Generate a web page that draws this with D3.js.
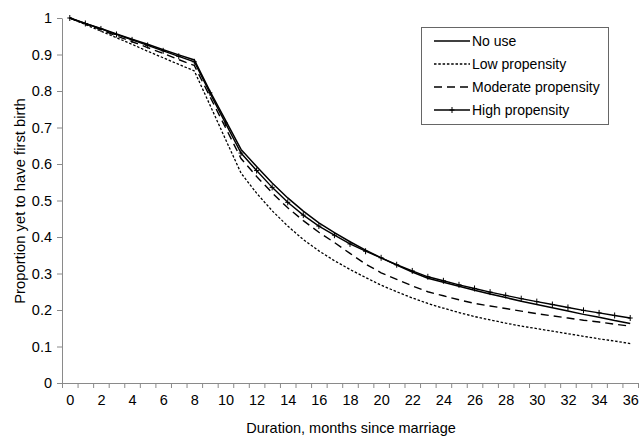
<!DOCTYPE html>
<html>
<head>
<meta charset="utf-8">
<script src="https://cdn.jsdelivr.net/npm/d3@7"></script>
<style>
  body { margin: 0; background: #fff; }
  svg { font-family: "Liberation Sans", Arial, sans-serif; }
</style>
</head>
<body>
<svg id="chart" width="641" height="439"></svg>
<script>
const months = d3.range(0, 37);
const xTickLabels = d3.range(0, 37, 2);
const yTicks = [0, 0.1, 0.2, 0.3, 0.4, 0.5, 0.6, 0.7, 0.8, 0.9, 1];
const seriesNames = ["No use", "Low propensity", "Moderate propensity", "High propensity"];

const noUse = [1.000, 0.985, 0.971, 0.956, 0.942, 0.928, 0.913, 0.899, 0.885, 0.800, 0.720, 0.640,
  0.593, 0.548, 0.507, 0.471, 0.439, 0.412, 0.387, 0.364, 0.343, 0.323, 0.304, 0.287,
  0.276, 0.265, 0.254, 0.244, 0.234, 0.224, 0.215, 0.206, 0.197, 0.188, 0.180, 0.171, 0.163];
const lowProp = [1.000, 0.982, 0.964, 0.946, 0.928, 0.909, 0.891, 0.873, 0.855, 0.762, 0.668, 0.575,
  0.520, 0.472, 0.430, 0.393, 0.362, 0.335, 0.311, 0.289, 0.268, 0.250, 0.233, 0.218,
  0.205, 0.193, 0.182, 0.173, 0.164, 0.156, 0.149, 0.142, 0.135, 0.128, 0.121, 0.115, 0.108];
const modProp = [1.000, 0.984, 0.968, 0.951, 0.935, 0.919, 0.903, 0.886, 0.870, 0.785, 0.700, 0.615,
  0.566, 0.521, 0.480, 0.445, 0.413, 0.385, 0.355, 0.326, 0.302, 0.284, 0.266, 0.250,
  0.239, 0.228, 0.218, 0.211, 0.204, 0.197, 0.190, 0.184, 0.178, 0.172, 0.167, 0.161, 0.156];
const highProp = [1.000, 0.985, 0.970, 0.955, 0.940, 0.925, 0.910, 0.895, 0.880, 0.795, 0.712, 0.630,
  0.582, 0.536, 0.495, 0.460, 0.430, 0.405, 0.381, 0.361, 0.343, 0.324, 0.307, 0.291,
  0.280, 0.269, 0.259, 0.249, 0.240, 0.231, 0.223, 0.215, 0.207, 0.199, 0.192, 0.185, 0.178];

const seriesValues = [noUse, lowProp, modProp, highProp];
const styles = [
  { dash: null, width: 1.5, marker: false },
  { dash: "2.5,1.8", width: 1.3, marker: false },
  { dash: "8,5", width: 1.4, marker: false },
  { dash: null, width: 1.4, marker: true }
];

const svg = d3.select("#chart");
const axisColor = "#8a8a8a";

const x = d3.scaleLinear().domain([-0.5, 36.5]).range([62, 638]);
const y = d3.scaleLinear().domain([0, 1]).range([383, 18]);

// Y axis
const yAxis = svg.append("g")
  .attr("transform", "translate(62,0)")
  .call(d3.axisLeft(y).tickValues(yTicks).tickSize(5).tickSizeOuter(0).tickPadding(5)
    .tickFormat(d => String(+d.toFixed(1))));
yAxis.select(".domain").attr("stroke", axisColor);
yAxis.selectAll(".tick line").attr("stroke", axisColor);
yAxis.selectAll("text").attr("font-size", 14.5).attr("fill", "#000")
  .attr("font-family", "Liberation Sans, Arial, sans-serif");

// X axis: boundary ticks
const boundaries = d3.range(-0.5, 37, 1);
const xAxis = svg.append("g")
  .attr("transform", "translate(0,383)")
  .call(d3.axisBottom(x).tickValues(boundaries).tickSize(5).tickSizeOuter(0).tickFormat(""));
xAxis.select(".domain").attr("stroke", axisColor);
xAxis.selectAll(".tick line").attr("stroke", axisColor);

// X labels
const xLab = svg.append("g")
  .attr("transform", "translate(0,383)")
  .call(d3.axisBottom(x).tickValues(xTickLabels).tickSize(0).tickPadding(12).tickFormat(d => d));
xLab.select(".domain").remove();
xLab.selectAll("text").attr("font-size", 14.5).attr("fill", "#000")
  .attr("font-family", "Liberation Sans, Arial, sans-serif");

// Axis titles
svg.append("text")
  .attr("x", 351).attr("y", 433)
  .attr("text-anchor", "middle")
  .attr("font-size", 14.5)
  .text("Duration, months since marriage");
svg.append("text")
  .attr("transform", "translate(25,201) rotate(-90)")
  .attr("text-anchor", "middle")
  .attr("font-size", 14.8)
  .text("Proportion yet to have first birth");

// Lines
const line = d3.line().x((d, i) => x(months[i])).y(d => y(d));
const order = [1, 2, 0, 3];
order.forEach(k => {
  const st = styles[k];
  svg.append("path")
    .datum(seriesValues[k])
    .attr("fill", "none")
    .attr("stroke", "#000")
    .attr("stroke-width", st.width)
    .attr("stroke-dasharray", st.dash)
    .attr("d", line);
  if (st.marker) {
    svg.append("g").selectAll("path")
      .data(seriesValues[k])
      .join("path")
      .attr("transform", (d, i) => `translate(${x(months[i])},${y(d)})`)
      .attr("d", "M-2.5,0H2.5M0,-3V3")
      .attr("stroke", "#000")
      .attr("stroke-width", 1);
  }
});

// Legend
const lg = svg.append("g");
lg.append("rect")
  .attr("x", 421.5).attr("y", 27.5).attr("width", 187).attr("height", 97)
  .attr("fill", "#fff").attr("stroke", "#666").attr("stroke-width", 1);
seriesNames.forEach((name, k) => {
  const st = styles[k];
  const yy = 41 + k * 23;
  lg.append("line")
    .attr("x1", 434).attr("x2", 470).attr("y1", yy).attr("y2", yy)
    .attr("stroke", "#000").attr("stroke-width", st.width)
    .attr("stroke-dasharray", st.dash);
  if (st.marker) {
    lg.append("path")
      .attr("transform", `translate(452,${yy})`)
      .attr("d", "M-2.5,0H2.5M0,-3V3")
      .attr("stroke", "#000").attr("stroke-width", 1);
  }
  lg.append("text")
    .attr("x", 472).attr("y", yy + 5)
    .attr("font-size", 14)
    .text(name);
});
</script>
</body>
</html>
